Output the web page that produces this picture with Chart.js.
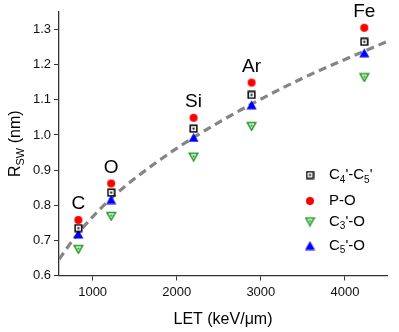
<!DOCTYPE html>
<html>
<head>
<meta charset="utf-8">
<script src="https://cdn.jsdelivr.net/npm/chart.js@4/dist/chart.umd.min.js"></script>
<style>
  html, body { margin: 0; padding: 0; background: #fff; }
  #wrap { width: 399px; height: 332px; }
</style>
</head>
<body>
<div id="wrap"><canvas id="chart" width="399" height="332"></canvas></div>
<script>
'use strict';

// ions and their LET (keV/um)
const ions = ['C', 'O', 'Si', 'Ar', 'Fe'];
const letValues = [830, 1220, 2200, 2890, 4230];

// R_SW (nm) per bond type
const c4c5 = [0.735, 0.836, 1.018, 1.114, 1.265];
const po = [0.758, 0.862, 1.049, 1.149, 1.305];
const c3o = [0.675, 0.769, 0.938, 1.025, 1.164];
const c5o = [0.718, 0.816, 0.993, 1.086, 1.234];

// dashed fit curve
const fitLet = [600, 800, 1000, 1250, 1500, 2000, 2500, 3000, 3500, 4000, 4500];
const fitR = [0.646, 0.712, 0.767, 0.826, 0.876, 0.962, 1.036, 1.102, 1.162, 1.215, 1.266];

const xTicks = [1000, 2000, 3000, 4000];
const yTicks = [0.6, 0.7, 0.8, 0.9, 1.0, 1.1, 1.2, 1.3];

const FONT = 'Arial, "Liberation Sans", sans-serif';

function makeMarker(w, h, draw) {
  let c = document.createElement('canvas');
  c.width = w;
  c.height = h;
  draw(c.getContext('2d'));
  return c;
}

// open square with a dot in the middle
let squareDot = makeMarker(9, 9, function(ctx) {
  ctx.fillStyle = '#fff';
  ctx.fillRect(1, 1, 7, 7);
  ctx.strokeStyle = '#000';
  ctx.lineWidth = 1.5;
  ctx.strokeRect(1.2, 1.2, 6.6, 6.6);
  ctx.fillStyle = '#000';
  ctx.fillRect(3.5, 3.5, 2, 2);
});

// open down triangle with a dot
let downTri = makeMarker(11, 10, function(ctx) {
  ctx.fillStyle = '#fff';
  ctx.strokeStyle = '#1a9a1a';
  ctx.lineWidth = 1.5;
  ctx.beginPath();
  ctx.moveTo(1.2, 1.4);
  ctx.lineTo(9.8, 1.4);
  ctx.lineTo(5.5, 9);
  ctx.closePath();
  ctx.fill();
  ctx.stroke();
  ctx.fillStyle = '#1a9a1a';
  ctx.fillRect(4.5, 3.5, 2, 2);
});

// filled up triangle
let upTri = makeMarker(11, 10, function(ctx) {
  ctx.fillStyle = '#0000ff';
  ctx.beginPath();
  ctx.moveTo(0.5, 9.5);
  ctx.lineTo(10.5, 9.5);
  ctx.lineTo(5.5, 0.5);
  ctx.closePath();
  ctx.fill();
});

// red dot
let redDot = makeMarker(10, 10, function(ctx) {
  ctx.fillStyle = '#ff0000';
  ctx.beginPath();
  ctx.arc(5, 5, 4, 0, Math.PI * 2);
  ctx.fill();
});

function toPoints(xs, ys) {
  return xs.map(function(x, i) {
    return { x: x, y: ys[i] };
  });
}

// ion labels above the red points, drawn through the scales
let ionLabels = {
  id: 'ionLabels',
  afterDatasetsDraw: function(chart) {
    let ctx = chart.ctx;
    let xs = chart.scales.x;
    let ys = chart.scales.y;
    ctx.save();
    ctx.fillStyle = '#000';
    ctx.font = '19px ' + FONT;
    ctx.textAlign = 'center';
    ctx.textBaseline = 'middle';
    for(let i = 0; i < ions.length; i++) {
      ctx.fillText(ions[i], xs.getPixelForValue(letValues[i]), ys.getPixelForValue(po[i]) - 16);
    }
    ctx.restore();
  }
};

// draws a text made of [text, isSubscript] parts
function drawRich(ctx, parts, x, y, size) {
  let cx = x;
  for(let i = 0; i < parts.length; i++) {
    let sub = parts[i][1];
    ctx.font = (sub ? Math.round(size * 0.66) : size) + 'px ' + FONT;
    ctx.fillText(parts[i][0], cx, sub ? y + size * 0.33 : y);
    cx += ctx.measureText(parts[i][0]).width;
  }
  return cx - x;
}

function richWidth(ctx, parts, size) {
  let w = 0;
  for(let i = 0; i < parts.length; i++) {
    ctx.font = (parts[i][1] ? Math.round(size * 0.66) : size) + 'px ' + FONT;
    w += ctx.measureText(parts[i][0]).width;
  }
  return w;
}

const legendItems = [
  { marker: squareDot, parts: [['C', 0], ['4', 1], ["'-C", 0], ['5', 1], ["'", 0]], y: 175 },
  { marker: redDot, parts: [['P-O', 0]], y: 201 },
  { marker: downTri, parts: [['C', 0], ['3', 1], ["'-O", 0]], y: 221.5 },
  { marker: upTri, parts: [['C', 0], ['5', 1], ["'-O", 0]], y: 245.5 }
];

let extras = {
  id: 'extras',
  afterDraw: function(chart) {
    let ctx = chart.ctx;
    let area = chart.chartArea;
    ctx.save();
    ctx.fillStyle = '#000';
    ctx.textBaseline = 'middle';

    // legend
    for(let i = 0; i < legendItems.length; i++) {
      let it = legendItems[i];
      let m = it.marker;
      ctx.drawImage(m, 310 - m.width / 2, it.y - m.height / 2);
      ctx.textAlign = 'left';
      drawRich(ctx, it.parts, 329, it.y, 15);
    }

    // x title
    ctx.textAlign = 'center';
    ctx.font = '16px ' + FONT;
    ctx.fillText('LET (keV/\u03bcm)', (area.left + area.right) / 2, 320);

    // y title, rotated
    let yParts = [['R', 0], ['SW', 1], [' (nm)', 0]];
    ctx.translate(16, (area.top + area.bottom) / 2);
    ctx.rotate(-Math.PI / 2);
    ctx.textAlign = 'left';
    let w = richWidth(ctx, yParts, 16);
    drawRich(ctx, yParts, -w / 2, 0, 16);
    ctx.restore();
  }
};

let myChart = new Chart(document.getElementById('chart'), {
  type: 'scatter',
  data: {
    datasets: [
      {
        label: 'P-O',
        data: toPoints(letValues, po),
        pointStyle: redDot,
        pointRadius: 5
      },
      {
        label: "C4'-C5'",
        data: toPoints(letValues, c4c5),
        pointStyle: squareDot,
        pointRadius: 5
      },
      {
        label: "C5'-O",
        data: toPoints(letValues, c5o),
        pointStyle: upTri,
        pointRadius: 5
      },
      {
        label: "C3'-O",
        data: toPoints(letValues, c3o),
        pointStyle: downTri,
        pointRadius: 5
      },
      {
        label: 'fit',
        data: toPoints(fitLet, fitR),
        showLine: true,
        cubicInterpolationMode: 'monotone',
        borderColor: '#858585',
        borderWidth: 3.2,
        borderDash: [8, 5],
        pointRadius: 0
      }
    ]
  },
  options: {
    responsive: false,
    animation: false,
    devicePixelRatio: 1,
    layout: { padding: { top: 12, right: 12, left: 0, bottom: 0 } },
    plugins: {
      legend: { display: false },
      tooltip: { enabled: false }
    },
    scales: {
      x: {
        type: 'linear',
        min: 600,
        max: 4500,
        afterFit: function(s) { s.height = 56.5; },
        afterBuildTicks: function(s) {
          s.ticks = xTicks.map(function(v) { return { value: v }; });
        },
        grid: {
          drawOnChartArea: false,
          drawTicks: true,
          tickLength: 5,
          color: '#333',
          tickColor: '#333'
        },
        border: { display: true, color: '#333', width: 1.3 },
        ticks: {
          color: '#111',
          padding: 4,
          font: { family: FONT, size: 13 },
          maxRotation: 0,
          callback: function(v) { return String(v); }
        }
      },
      y: {
        type: 'linear',
        min: 0.6,
        max: 1.35,
        afterFit: function(s) { s.width = 59; },
        afterBuildTicks: function(s) {
          s.ticks = yTicks.map(function(v) { return { value: v }; });
        },
        grid: {
          drawOnChartArea: false,
          drawTicks: true,
          tickLength: 5,
          color: '#333',
          tickColor: '#333'
        },
        border: { display: true, color: '#333', width: 1.3 },
        ticks: {
          color: '#111',
          padding: 3,
          font: { family: FONT, size: 13 },
          callback: function(v) { return v.toFixed(1); }
        }
      }
    }
  },
  plugins: [ionLabels, extras]
});
</script>
</body>
</html>
